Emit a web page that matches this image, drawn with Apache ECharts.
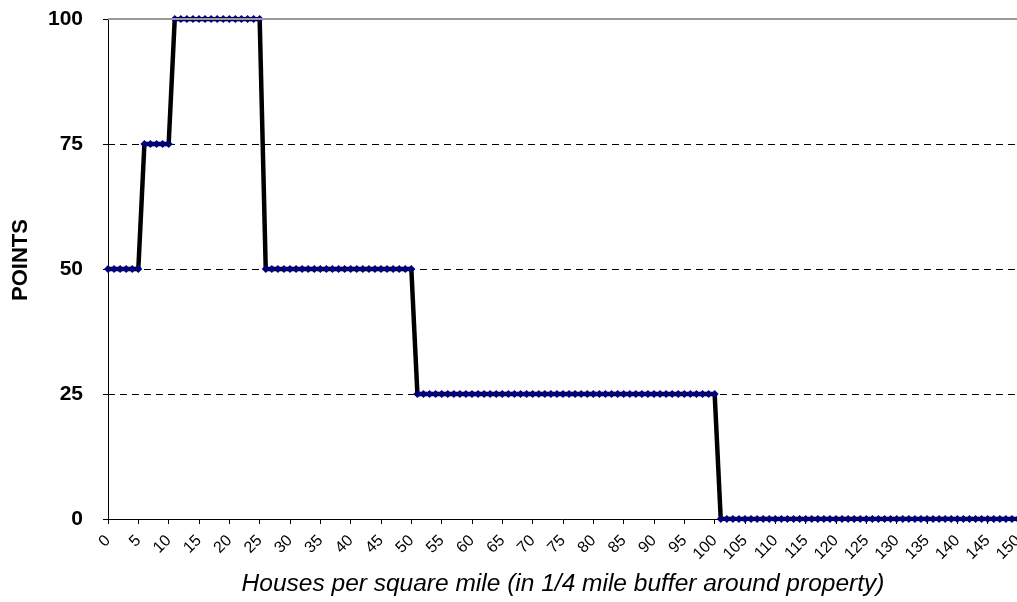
<!DOCTYPE html>
<html>
<head>
<meta charset="utf-8">
<title>Points by housing density</title>
<script src="https://cdn.jsdelivr.net/npm/echarts@6/dist/echarts.min.js"></script>
<style>
  html, body { margin: 0; padding: 0; background: #fff; }
  #chart { width: 1017px; height: 602px; }
</style>
</head>
<body>
<div id="chart"></div>
<script>
// houses per square mile (0..150)
var houses = [
    '0','1','2','3','4','5','6','7','8','9',
    '10','11','12','13','14','15','16','17','18','19',
    '20','21','22','23','24','25','26','27','28','29',
    '30','31','32','33','34','35','36','37','38','39',
    '40','41','42','43','44','45','46','47','48','49',
    '50','51','52','53','54','55','56','57','58','59',
    '60','61','62','63','64','65','66','67','68','69',
    '70','71','72','73','74','75','76','77','78','79',
    '80','81','82','83','84','85','86','87','88','89',
    '90','91','92','93','94','95','96','97','98','99',
    '100','101','102','103','104','105','106','107','108','109',
    '110','111','112','113','114','115','116','117','118','119',
    '120','121','122','123','124','125','126','127','128','129',
    '130','131','132','133','134','135','136','137','138','139',
    '140','141','142','143','144','145','146','147','148','149',
    '150'
];

// points awarded for each density value
var points = [
    50,50,50,50,50,50,75,75,75,75,
    75,100,100,100,100,100,100,100,100,100,
    100,100,100,100,100,100,50,50,50,50,
    50,50,50,50,50,50,50,50,50,50,
    50,50,50,50,50,50,50,50,50,50,
    50,25,25,25,25,25,25,25,25,25,
    25,25,25,25,25,25,25,25,25,25,
    25,25,25,25,25,25,25,25,25,25,
    25,25,25,25,25,25,25,25,25,25,
    25,25,25,25,25,25,25,25,25,25,
    25,0,0,0,0,0,0,0,0,0,
    0,0,0,0,0,0,0,0,0,0,
    0,0,0,0,0,0,0,0,0,0,
    0,0,0,0,0,0,0,0,0,0,
    0,0,0,0,0,0,0,0,0,0,
    0
];

var yTicks = [0, 25, 50, 75, 100];

var chart = echarts.init(document.getElementById('chart'));

var option = {
    animation: false,
    backgroundColor: '#ffffff',
    textStyle: { fontFamily: 'Liberation Sans, Arial, sans-serif' },
    grid: {
        left: 108,
        right: -1,
        top: 19,
        bottom: 83,
        containLabel: false,
        outerBoundsMode: 'none'
    },
    xAxis: {
        type: 'category',
        data: houses,
        boundaryGap: false,
        name: 'Houses per square mile (in 1/4 mile buffer around property)',
        nameLocation: 'middle',
        nameGap: 53,
        nameTextStyle: {
            fontSize: 24.5,
            fontStyle: 'italic',
            color: '#000',
            verticalAlign: 'top'
        },
        axisLine: { lineStyle: { color: '#000', width: 1 } },
        axisTick: { interval: 4, length: 5, lineStyle: { color: '#000' } },
        axisLabel: {
            interval: 4,
            rotate: 45,
            margin: 19,
            fontSize: 16,
            color: '#000'
        },
        splitLine: { show: false }
    },
    yAxis: {
        type: 'value',
        min: yTicks[0],
        max: yTicks[yTicks.length - 1],
        interval: 25,
        name: 'POINTS',
        nameLocation: 'middle',
        nameGap: 76,
        nameTextStyle: {
            fontSize: 22,
            fontWeight: 'bold',
            color: '#000',
            padding: [0, 0, 0, 18]
        },
        axisLine: { show: true, lineStyle: { color: '#000', width: 1 } },
        axisTick: { show: true, length: 5, lineStyle: { color: '#000' } },
        axisLabel: {
            margin: 25,
            fontSize: 21,
            fontWeight: 'bold',
            color: '#000'
        },
        splitLine: {
            show: true,
            lineStyle: { color: '#000', type: [7, 5], width: 1 }
        }
    },
    series: [{
        type: 'line',
        data: points,
        symbol: 'diamond',
        symbolSize: 8,
        showAllSymbol: true,
        lineStyle: { color: '#000', width: 4.5 },
        itemStyle: { color: '#000080', borderWidth: 0 },
        markLine: {
            silent: true,
            symbol: 'none',
            label: { show: false },
            lineStyle: { color: '#9a9a9a', type: 'solid', width: 2 },
            data: [{ yAxis: yTicks[yTicks.length - 1] }]
        },
        z: 3
    }]
};

chart.setOption(option);
</script>
</body>
</html>
